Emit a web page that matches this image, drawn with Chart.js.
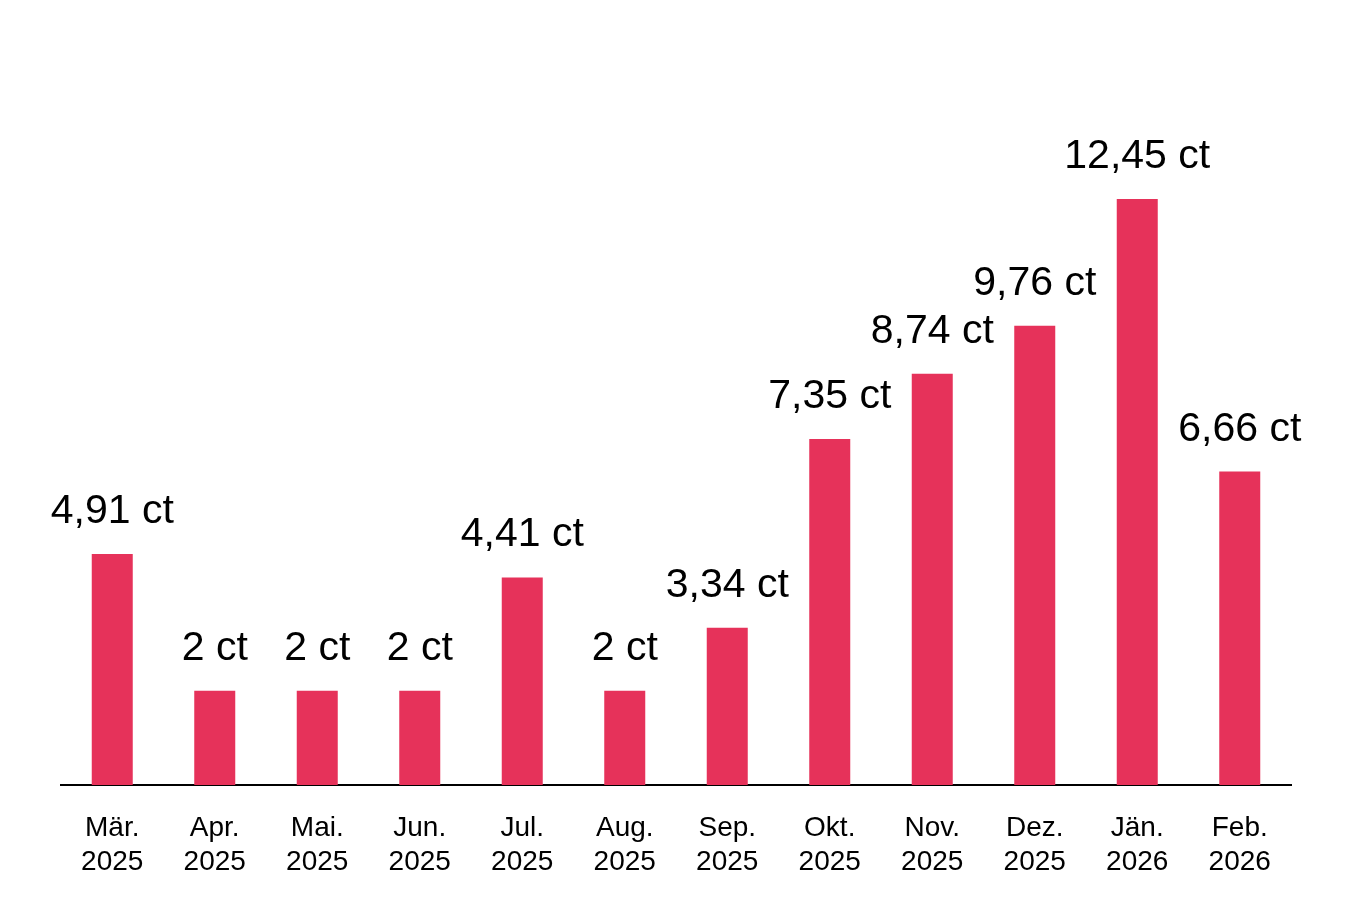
<!DOCTYPE html>
<html lang="de">
<head>
<meta charset="utf-8">
<title>Preis pro Monat</title>
<script src="https://cdn.jsdelivr.net/npm/chart.js@4/dist/chart.umd.min.js"></script>
<style>
  html, body { margin: 0; padding: 0; background: #fff; }
  #wrap { width: 1351px; height: 897px; }
</style>
</head>
<body>
<div id="wrap"><canvas id="myChart"></canvas></div>
<script>
const months = ["Mär.", "Apr.", "Mai.", "Jun.", "Jul.", "Aug.", "Sep.", "Okt.", "Nov.", "Dez.", "Jän.", "Feb."];
const years = ["2025", "2025", "2025", "2025", "2025", "2025", "2025", "2025", "2025", "2025", "2026", "2026"];
const prices = [4.91, 2, 2, 2, 4.41, 2, 3.34, 7.35, 8.74, 9.76, 12.45, 6.66];
const unit = "ct";

const barColor = "#e6325a";
const fontFamily = "'Liberation Sans', Arial, Helvetica, sans-serif";

// format like "4,91 ct"
function formatPrice(v) {
  return String(v).replace(".", ",") + " " + unit;
}

// draws the value above each bar
const valueLabels = {
  id: "valueLabels",
  afterDatasetsDraw(chart) {
    const ctx = chart.ctx;
    const meta = chart.getDatasetMeta(0);
    ctx.save();
    ctx.font = "41px " + fontFamily;
    ctx.fillStyle = "#000";
    ctx.textAlign = "center";
    ctx.textBaseline = "alphabetic";
    meta.data.forEach((bar, i) => {
      ctx.fillText(formatPrice(prices[i]), bar.x, bar.y - 31);
    });
    ctx.restore();
  },
};

window.onload = function () {
  const ctx = document.getElementById("myChart");
  new Chart(ctx, {
    type: "bar",
    data: {
      labels: months.map((m, i) => [m, years[i]]),
      datasets: [
        {
          data: prices,
          backgroundColor: barColor,
          borderWidth: 0,
          barPercentage: 0.4,
          categoryPercentage: 1,
        },
      ],
    },
    options: {
      responsive: true,
      maintainAspectRatio: false,
      animation: false,
      layout: {
        padding: { top: 79, left: 61, right: 60, bottom: 17 },
      },
      plugins: {
        legend: { display: false },
        tooltip: { enabled: false },
      },
      scales: {
        x: {
          grid: { display: false, drawTicks: false },
          border: { display: true, color: "#000", width: 2 },
          ticks: {
            color: "#000",
            padding: 27,
            maxRotation: 0,
            autoSkip: false,
            font: { family: fontFamily, size: 28, lineHeight: 1.19 },
          },
          // keep the axis line where the reference has it
          afterFit(scale) {
            scale.height = 95;
          },
        },
        y: {
          display: false,
          min: 0,
          max: 15,
        },
      },
    },
    plugins: [valueLabels],
  });
};
</script>
</body>
</html>
